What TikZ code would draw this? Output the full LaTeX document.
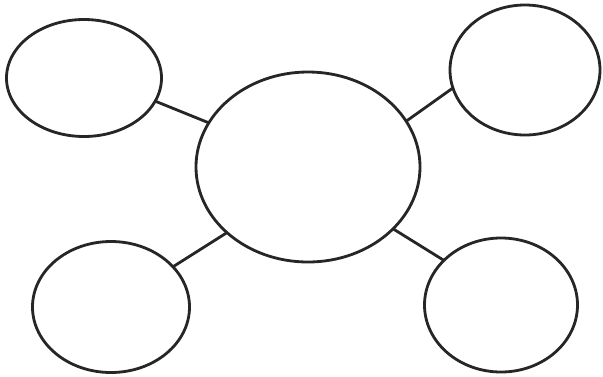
\documentclass[tikz,border=0pt]{standalone}
\usetikzlibrary{shapes.geometric}
\begin{document}
\begin{tikzpicture}[
    bubble/.style={ellipse, draw=black!85, line width=2pt, inner sep=0pt, outer sep=0pt},
    spoke/.style={draw=black!85, line width=2pt}
]
    \useasboundingbox (0,0) rectangle (15.075,-9.4);
    \node[bubble, minimum width=5.6cm, minimum height=4.75cm] (hub) at (7.7,-4.175) {};
    \node[bubble, minimum width=3.875cm, minimum height=2.925cm] (tl) at (2.1,-1.95) {};
    \node[bubble, minimum width=3.75cm, minimum height=3.25cm] (tr) at (13.125,-1.75) {};
    \node[bubble, minimum width=3.925cm, minimum height=3.275cm] (bl) at (2.775,-7.675) {};
    \node[bubble, minimum width=3.825cm, minimum height=3.35cm] (br) at (12.525,-7.625) {};
    \foreach \leaf/\a/\b in {tl/156/-18, tr/25/194, bl/219/33, br/-36/142} {
        \draw[spoke] (hub.\a) -- (\leaf.\b);
    }
\end{tikzpicture}
\end{document}
